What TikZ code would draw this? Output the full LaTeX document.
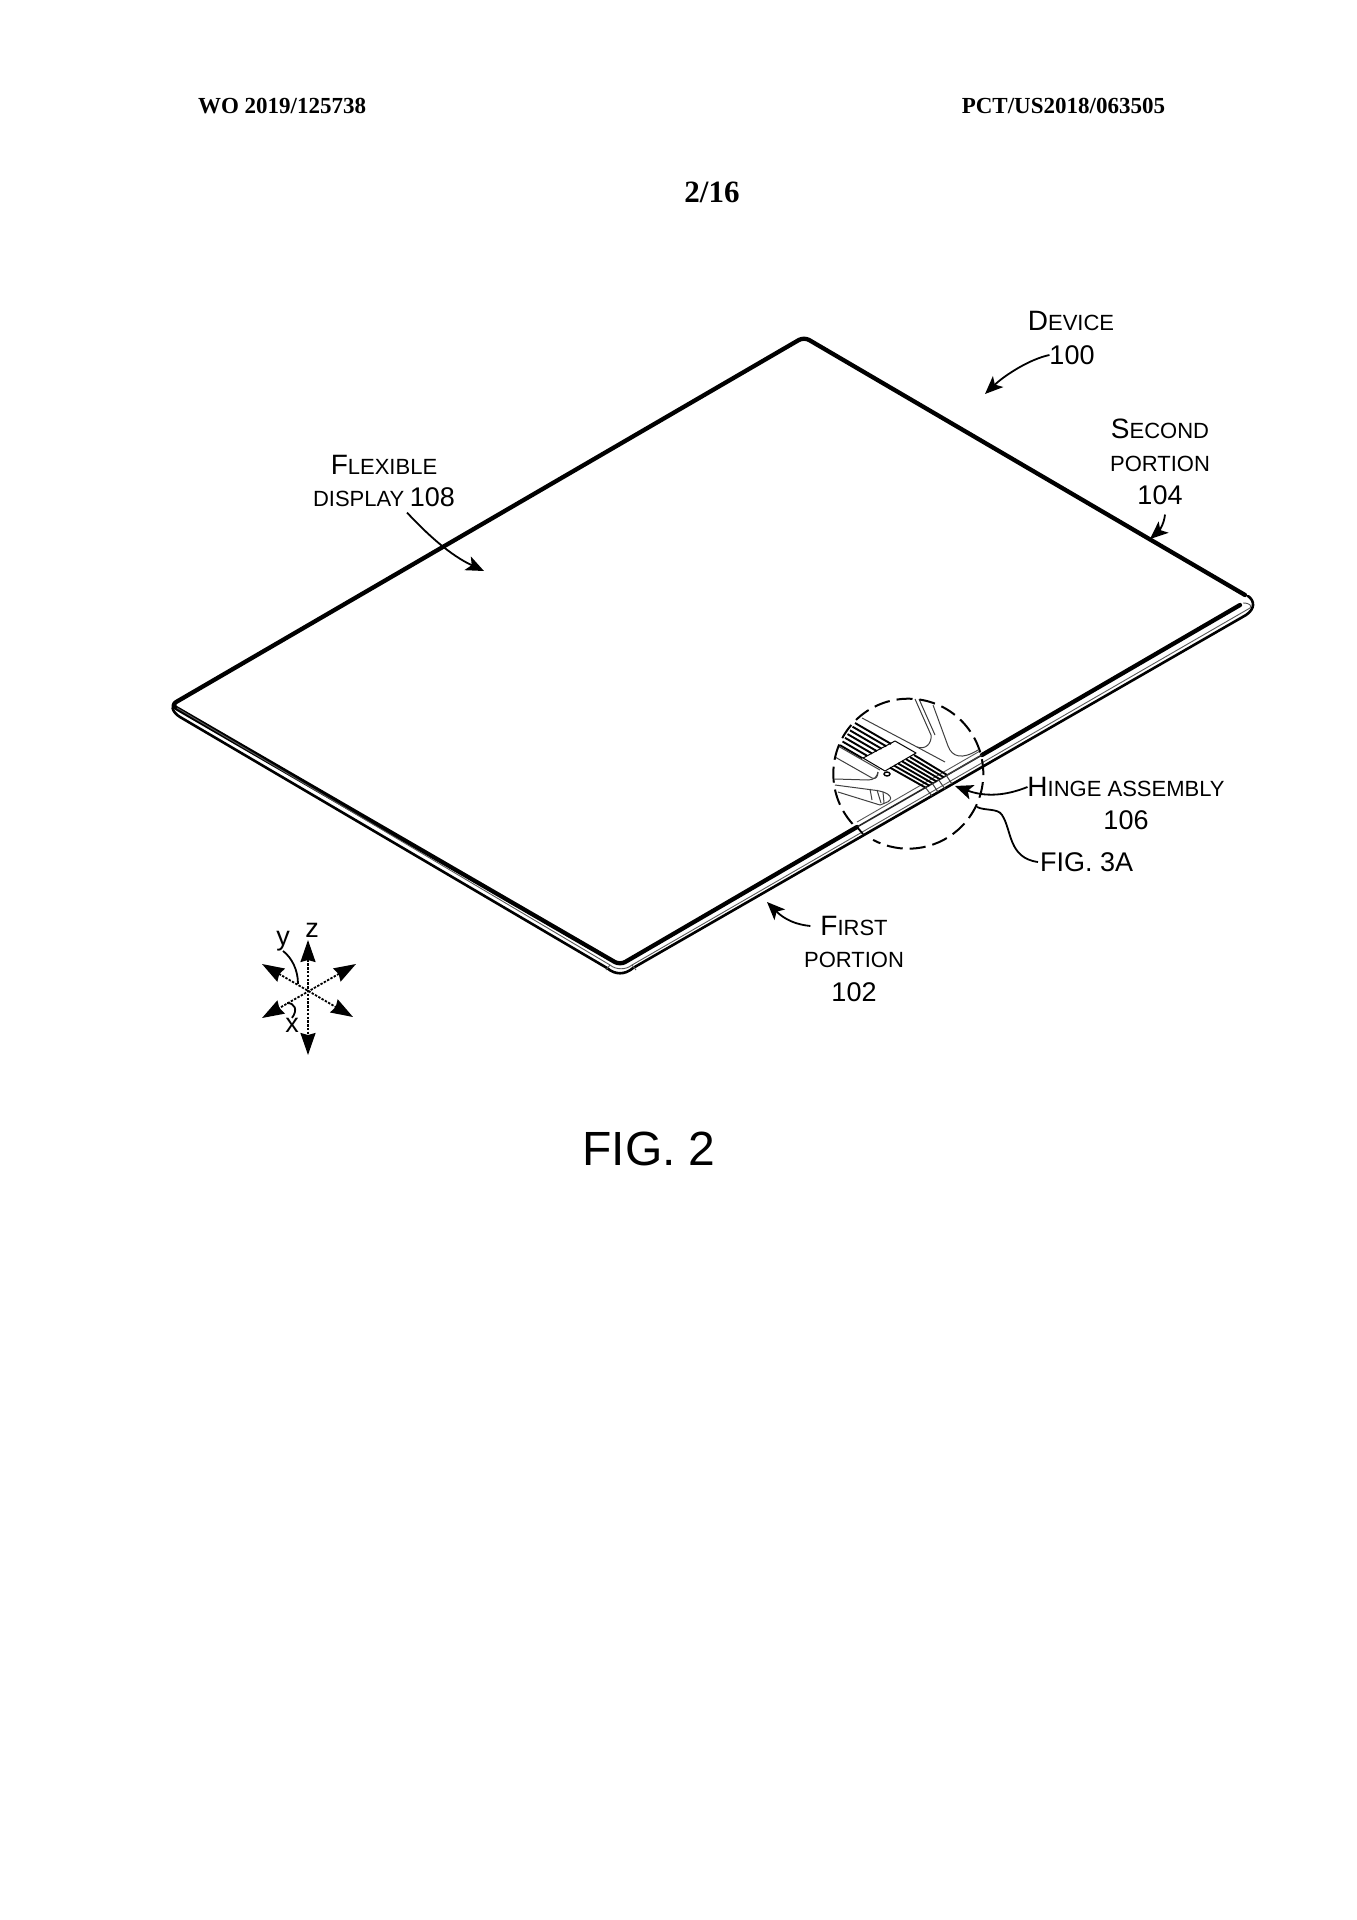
\documentclass[tikz,border=0pt]{standalone}
\usepackage{fontspec}
\setmainfont{Liberation Sans}
\newfontfamily\headfont{Liberation Serif}[Scale=1]
\usetikzlibrary{arrows.meta,calc}
\newcommand{\Lab}[2]{{\fontsize{14}{14}\selectfont #1}{\fontsize{11}{11}\selectfont #2}}
\newcommand{\Low}[1]{{\fontsize{11}{11}\selectfont #1}}
\newcommand{\Num}[1]{{\fontsize{13.5}{14}\selectfont #1}}
\tikzset{
  lbl/.style={inner sep=0pt,outer sep=0pt,anchor=center},
  head/.style={inner sep=0pt,outer sep=0pt,font=\headfont\bfseries\fontsize{11.5}{12}\selectfont},
  thick edge/.style={line width=2.15pt,line join=round,line cap=round},
  outer edge/.style={line width=1.3pt,line join=round,line cap=round},
  mid edge/.style={line width=.45pt,black!65},
  detail/.style={line width=.5pt,black!75,line join=round},
  stripe/.style={line width=.95pt,black},
  leader/.style={line width=.9pt,-{Stealth[length=9pt,width=7.5pt,inset=2.2pt]}},
  plainlead/.style={line width=.9pt},
  axis/.style={line width=.9pt,dash pattern=on 1.2pt off .7pt,{Stealth[length=11pt,width=7.5pt,inset=1pt]}-{Stealth[length=11pt,width=7.5pt,inset=1pt]}},
}
\begin{document}
\begin{tikzpicture}[x=0.5pt,y=-0.5pt]
\useasboundingbox (0,0) rectangle (1356,1920);
\fill[white] (0,0) rectangle (1356,1920);

% page heads
\node[head,anchor=west] (hl) at (198,106) {WO 2019/125738};
\node[head,anchor=east] (hr) at (1165,106) {PCT/US2018/063505};
\node[head,font=\headfont\bfseries\fontsize{15.5}{16}\selectfont] (pg) at (712,192) {2/16};

% device top face outline
\draw[thick edge,rounded corners=3pt] (857,827) -- (620,965) -- (171,705) -- (804,337) -- (1245,595);
\draw[thick edge] (982,755) -- (1240,605);
% outer edge
\draw[outer edge] (1248,596) .. controls (1255,601) and (1255,609) .. (1246,615)
  -- (633,968) .. controls (625,975) and (615,975) .. (607,968)
  -- (180,717) .. controls (172,712) and (170,705) .. (176,702);
% thin middle line
\draw[mid edge] (1243,603) .. controls (1250,603) and (1252,606) .. (1250,608)
  -- (632,965) .. controls (626,970) and (616,970) .. (610,965) -- (177,708);
\draw[mid edge] (610,965) -- (606,970) (632,965) -- (636,970);
% hinge segment of the front edge
\draw[line width=.8pt,black!85] (857,827) -- (982,755);
\draw[mid edge] (857,822) -- (980,751);
\draw[line width=.9pt] (857,827) -- (863,834);

% hinge detail
\begin{scope}
  % stripes, left of flap
  \foreach \i in {0,...,6}{
    \pgfmathsetmacro{\xs}{855-2.5*\i}
    \pgfmathsetmacro{\ys}{723+3.7*\i}
    \pgfmathsetmacro{\xe}{(1189.5-\ys+.58*\xs)/1.08}
    \pgfmathsetmacro{\ye}{\ys+.58*(\xe-\xs)}
    \draw[stripe] (\xs,\ys) -- (\xe,\ye);
  }
  % stripes, right of flap
  \foreach \i in {0,...,6}{
    \pgfmathsetmacro{\xs}{914-4*\i}
    \pgfmathsetmacro{\ys}{755+2.1*\i}
    \pgfmathsetmacro{\xe}{947-3.5*\i}
    \pgfmathsetmacro{\ye}{775+2.15*\i}
    \draw[stripe] (\xs,\ys) -- (\xe,\ye);
  }
  % flap
  \draw[detail,black] (895,741) -- (916,753) -- (885,771) -- (863,758) -- cycle;
  % screw
  \draw[line width=.7pt] (887,774) ellipse [x radius=3,y radius=2];
  % upper left shape
  \draw[detail] (862,718) -- (917,747) .. controls (925,750) and (932,744) .. (931,735) -- (915,699);
  \draw[detail] (919,699) -- (935,735);
  \draw[detail] (917,747) -- (945,762);
  % upper right shape
  \draw[detail] (933,705) -- (948,746) .. controls (952,757) and (962,760) .. (978,750);
  % band lines
  \draw[detail] (947,775) -- (978,757);
  % left shapes
  \draw[detail] (838,746) -- (880,770);
  \draw[detail] (835,757) -- (872,778) .. controls (876,780) and (878,776) .. (878,772);
  \draw[detail] (835,779) -- (868,780) .. controls (874,780) and (877,777) .. (878,772);
  % lower left shape
  \draw[detail] (835,785) -- (873,790) .. controls (892,792) and (895,800) .. (885,803) -- (880,805) -- (838,792);
  \draw[detail] (870,789) -- (872,800) (877,790) -- (881,803) (883,792) -- (884,803);
  % long hinge line tick marks
  \draw[detail] (925,787) -- (932,796) (932,783) -- (938,792) (938,779) -- (945,789) (946,775) -- (952,784);
\end{scope}
% dashed circle
\coordinate (cc) at (908.3,773.7);
\draw[line width=1pt,dash pattern=on 8pt off 3.5pt] ([shift={(138:75)}]cc) arc[start angle=138,end angle=478,radius=75];

% labels
\node[lbl] (dev) at (1071,321) {\Lab{D}{EVICE}};
\node[lbl] (n100) at (1072,355) {\Num{100}};
\node[lbl] (sec) at (1160,429) {\Lab{S}{ECOND}};
\node[lbl] (secp) at (1160,464) {\Low{PORTION}};
\node[lbl] (n104) at (1160,495) {\Num{104}};
\node[lbl] (flex) at (384,465) {\Lab{F}{LEXIBLE}};
\node[lbl] (disp) at (384,497) {\Low{DISPLAY} \Num{108}};
\node[lbl] (hinge) at (1126,787) {\Lab{H}{INGE ASSEMBLY}};
\node[lbl] (n106) at (1126,820) {\Num{106}};
\node[lbl,anchor=west] (fig3) at (1040,862) {\Num{FIG. 3A}};
\node[lbl] (first) at (854,926) {\Lab{F}{IRST}};
\node[lbl] (firstp) at (854,960) {\Low{PORTION}};
\node[lbl] (n102) at (854,992) {\Num{102}};
\node[lbl,font=\fontsize{24}{24}\selectfont] (fig2) at (649,1149) {FIG. 2};

% leaders
\coordinate (tdev) at (985,394);
\coordinate (t104) at (1150,539);
\coordinate (t108) at (484,571);
\coordinate (t106) at (955,786);
\coordinate (e3a) at (977,807);
\coordinate (t102) at (767,902);
\draw[leader] (n100.west) .. controls (1030,359) and (1005,375) .. (tdev);
\draw[leader] ([shift={(2.5pt,-5pt)}]n104.south) .. controls (1164,525) and (1158,532) .. (t104);
\draw[leader] ([shift={(11.5pt,-3pt)}]disp.south) .. controls (428,535) and (450,555) .. (t108);
\draw[leader] (hinge.west) .. controls (1005,796) and (985,797) .. (t106);
\draw[plainlead] ([xshift=-1pt]fig3.west) .. controls (1008,858) and (1012,830) .. (1002,815) .. controls (998,808) and (985,811) .. (e3a);
\draw[leader] ([xshift=-5pt]first.west) .. controls (790,924) and (780,915) .. (t102);

% axes
\coordinate (o) at (308,992);
\coordinate (az1) at (308,940);
\coordinate (az2) at (308,1055);
\coordinate (al1) at (262,964);
\coordinate (al2) at (353,1017);
\coordinate (ar1) at (356,964);
\coordinate (ar2) at (262,1018);
\draw[axis] (az1) -- (az2);
\draw[axis] (al1) -- (al2);
\draw[axis] (ar1) -- (ar2);
\node[lbl,font=\fontsize{13.5}{14}\selectfont] (lz) at (312,930) {z};
\node[lbl,font=\fontsize{13.5}{14}\selectfont] (ly) at (283,941) {y};
\node[lbl,font=\fontsize{13.5}{14}\selectfont] (lx) at (292,1025) {x};
\draw[plainlead] (ly.south) .. controls (292,958) and (298,970) .. (298,984);
\draw[plainlead] (287,1003) .. controls (295,1003) and (298,1010) .. (lx.north);
\end{tikzpicture}
\end{document}
